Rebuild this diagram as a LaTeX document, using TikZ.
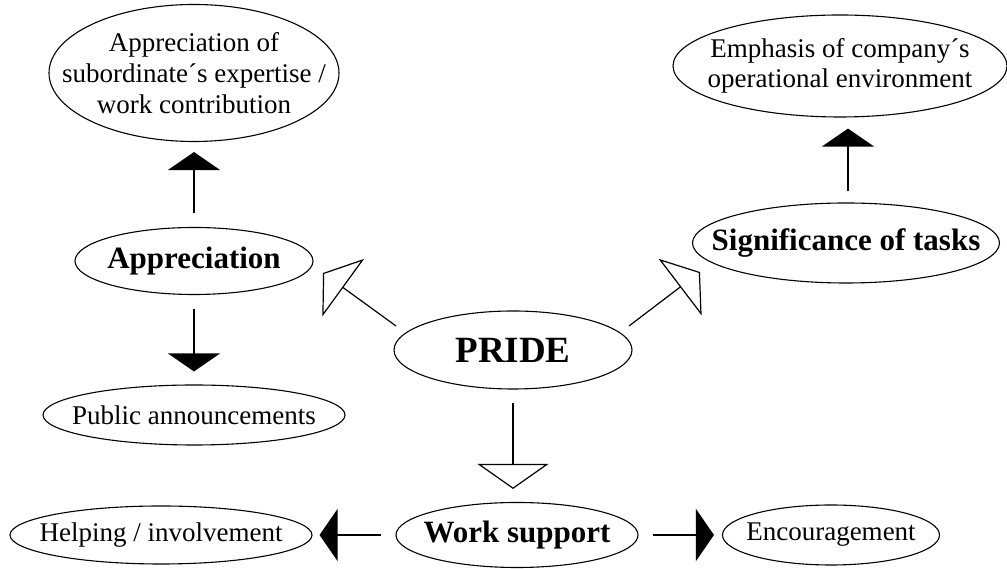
\documentclass[tikz,border=0pt]{standalone}
\usepackage{fontspec}
\setmainfont{Liberation Serif}
\usetikzlibrary{arrows.meta, positioning, shapes.geometric, calc}

\tikzset{
  oval/.style={ellipse, draw, line width=1.1pt, inner sep=-50pt, align=center, font=\fontsize{27}{31}\selectfont},
  boldoval/.style={oval, font=\fontsize{31}{35}\selectfont\bfseries},
  solidhead/.style={-{Triangle[length=18pt,width=52pt]}, line width=1.2pt, shorten <=14pt, shorten >=10pt},
  hollowhead/.style={-{Triangle[open,length=25pt,width=71pt]}, line width=1.2pt}
}

\begin{document}
\begin{tikzpicture}[x=1pt, y=1pt, node distance=1cm, on grid]
\useasboundingbox (0,0) rectangle (1007,569);

	\node[oval, font=\fontsize{37}{40}\selectfont\bfseries, minimum width=238pt, minimum height=78pt] (pride) at (513,219) {PRIDE};
	\node[boldoval, minimum width=238pt, minimum height=67pt] (app)   [above left=89pt and 319pt of pride]  {Appreciation};
	\node[boldoval, minimum width=307pt, minimum height=80pt] (sig)   [above right=107pt and 333pt of pride] {Significance of tasks};
	\node[boldoval, minimum width=242pt, minimum height=65pt] (ws)    [below right=185pt and 4pt of pride]  {Work support};

	\node[oval, minimum width=290pt, minimum height=137pt] (appexp)   [above=188pt of app]  {Appreciation of\\subordinate´s expertise /\\work contribution};
	\node[oval, minimum width=302pt, minimum height=60pt]  (public)   [below=154pt of app]  {Public announcements};
	\node[oval, font=\fontsize{27}{29.5}\selectfont, minimum width=334pt, minimum height=102pt] (environ) [above left=177pt and 6pt of sig] {Emphasis of company´s\\operational environment};
	\node[oval, minimum width=302pt, minimum height=58pt]  (helping)  [left=356pt of ws]    {Helping / involvement};
	\node[oval, minimum width=217pt, minimum height=60pt]  (encour)   [right=314pt of ws]   {Encouragement};

	% free ends of the slanted connectors
	\coordinate (prideL) at ($(pride.center)+(-117,24)$);
	\coordinate (prideR) at ($(pride.center)+(116,24)$);
	\coordinate (appgap) at ($(app.center)+(129,-12)$);
	\coordinate (siggap) at ($(sig.center)+(-146,-29)$);

    \draw[hollowhead] (prideL) -- (appgap);
    \draw[hollowhead] (prideR) -- (siggap);
    \draw[hollowhead, shorten <=13pt, shorten >=13pt] (pride.south) -- (pride.south |- ws.north);

    \draw[solidhead] (app.north) -- (appexp.south);
    \draw[solidhead, shorten >=13pt] (app.south) -- (public.north);
    \draw[solidhead, shorten <=11pt, shorten >=11pt] ([xshift=2pt]sig.north) -- ([xshift=2pt]sig.north |- environ.south);
    \draw[solidhead, shorten >=7pt] (ws.west) -- (helping.east);
    \draw[solidhead, shorten >=8pt] (ws.east) -- (encour.west);

\end{tikzpicture}
\end{document}
